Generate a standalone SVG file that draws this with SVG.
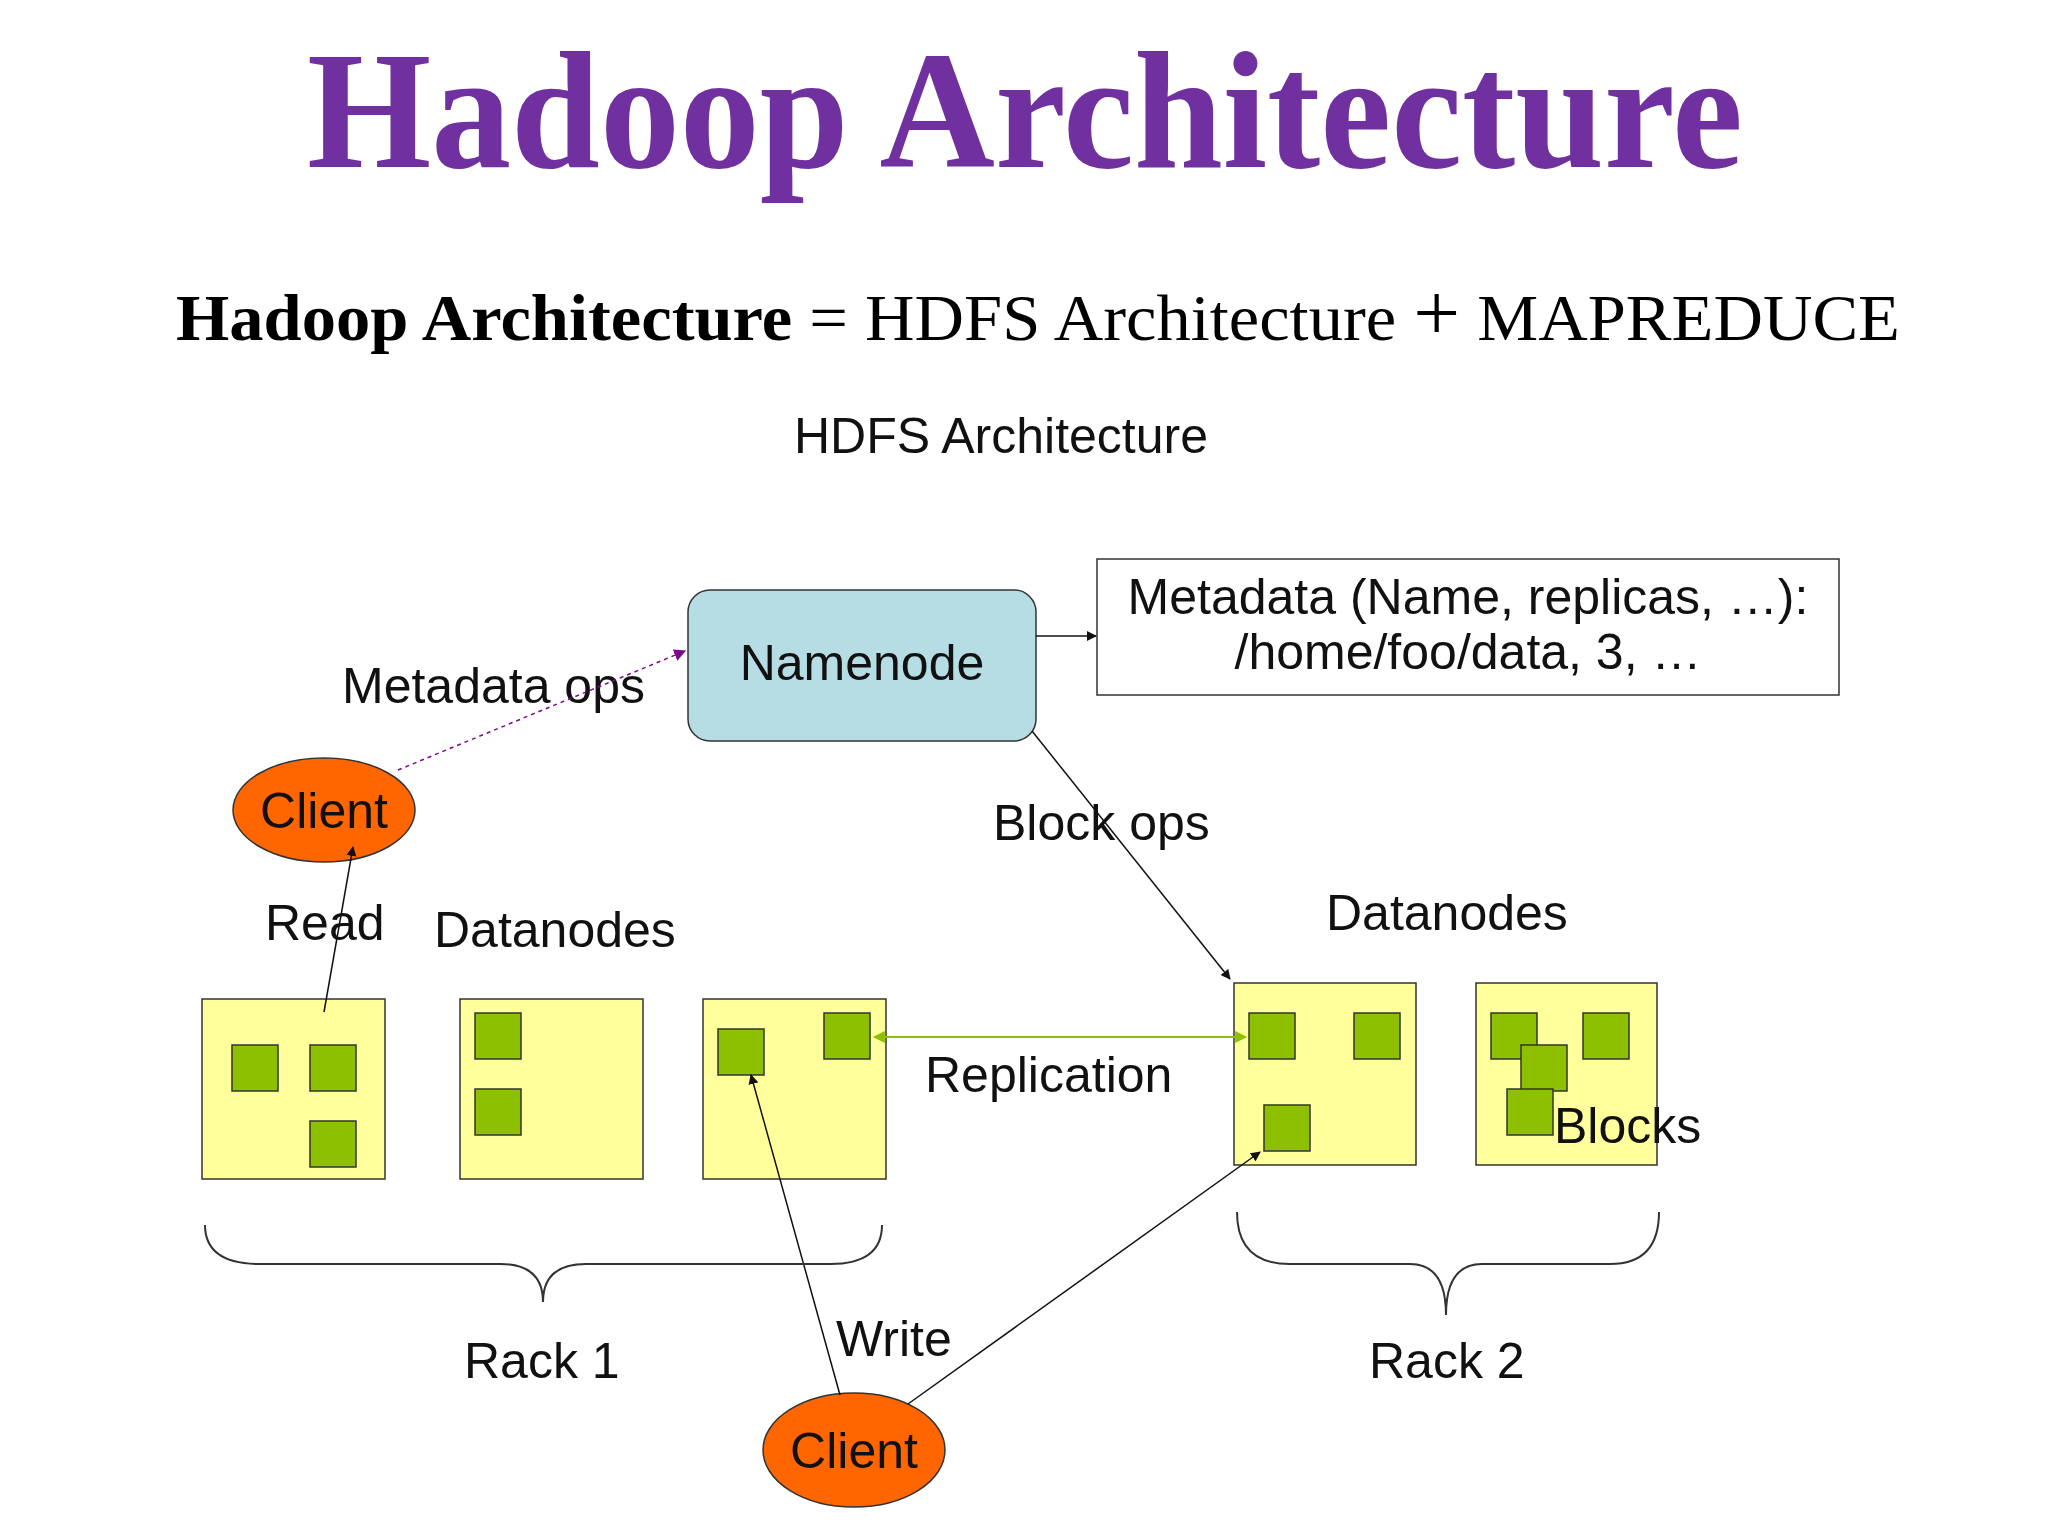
<svg xmlns="http://www.w3.org/2000/svg" width="2048" height="1536" viewBox="0 0 2048 1536">
<style>
.t{font-family:"Liberation Sans",Arial,sans-serif;font-size:50px;fill:#111}
.dn{fill:#ffff9c;stroke:#333;stroke-width:1.5}
.b{fill:#8cc000;stroke:#333;stroke-width:1.5}
.cl{fill:#ff6600;stroke:#333;stroke-width:1.5}
.ln{stroke:#111;stroke-width:1.5;fill:none}
.br{stroke:#333;stroke-width:2;fill:none}
</style>
<defs>
<marker id="ah" viewBox="0 0 10 10" refX="9" refY="5" markerWidth="10" markerHeight="10" orient="auto" markerUnits="userSpaceOnUse"><path d="M0,0L10,5L0,10z" fill="#111"/></marker>
<marker id="ap" viewBox="0 0 10 10" refX="9" refY="5" markerWidth="12" markerHeight="12" orient="auto" markerUnits="userSpaceOnUse"><path d="M0,0L10,5L0,10z" fill="#7a0a8a"/></marker>
<marker id="ag" viewBox="0 0 10 10" refX="9" refY="5" markerWidth="12" markerHeight="12" orient="auto-start-reverse" markerUnits="userSpaceOnUse"><path d="M0,0L10,5L0,10z" fill="#8cc000"/></marker>
</defs>
<rect width="2048" height="1536" fill="#fff"/>
<text x="307" y="167" font-family="'Liberation Serif','Times New Roman',serif" font-size="168" font-weight="bold" fill="#7030a0" textLength="1436" lengthAdjust="spacingAndGlyphs">Hadoop Architecture</text>
<text x="176" y="340" font-family="'Liberation Serif','Times New Roman',serif" font-size="66" fill="#000" textLength="1724" lengthAdjust="spacingAndGlyphs"><tspan font-weight="bold">Hadoop Architecture</tspan> = HDFS Architecture <tspan font-size="80">+</tspan> MAPREDUCE</text>
<text class="t" x="794" y="453">HDFS Architecture</text>

<g id="namenode"><rect x="688" y="590" width="348" height="151" rx="22" fill="#b7dde4" stroke="#333" stroke-width="1.5"/><text class="t" x="862" y="680" text-anchor="middle">Namenode</text></g>
<g id="metadata"><rect x="1097" y="559" width="742" height="136" fill="#fff" stroke="#333" stroke-width="1.5"/><text class="t" x="1468" y="614" text-anchor="middle">Metadata (Name, replicas, …):</text><text class="t" x="1468" y="669" text-anchor="middle">/home/foo/data, 3, …</text></g>
<g id="client1"><ellipse cx="324" cy="810" rx="91" ry="52" class="cl"/><text class="t" x="324" y="828" text-anchor="middle">Client</text></g>
<g id="client2"><ellipse cx="854" cy="1450" rx="91" ry="57" class="cl"/><text class="t" x="854" y="1468" text-anchor="middle">Client</text></g>

<g id="dn1"><rect class="dn" x="202" y="999" width="183" height="180"/><rect class="b" x="232" y="1045" width="46" height="46"/><rect class="b" x="310" y="1045" width="46" height="46"/><rect class="b" x="310" y="1121" width="46" height="46"/></g>
<g id="dn2"><rect class="dn" x="460" y="999" width="183" height="180"/><rect class="b" x="475" y="1013" width="46" height="46"/><rect class="b" x="475" y="1089" width="46" height="46"/></g>
<g id="dn3"><rect class="dn" x="703" y="999" width="183" height="180"/><rect class="b" x="718" y="1029" width="46" height="46"/><rect class="b" x="824" y="1013" width="46" height="46"/></g>
<g id="dn4"><rect class="dn" x="1234" y="983" width="182" height="182"/><rect class="b" x="1249" y="1013" width="46" height="46"/><rect class="b" x="1354" y="1013" width="46" height="46"/><rect class="b" x="1264" y="1105" width="46" height="46"/></g>
<g id="dn5"><rect class="dn" x="1476" y="983" width="181" height="182"/><rect class="b" x="1491" y="1013" width="46" height="46"/><rect class="b" x="1583" y="1013" width="46" height="46"/><rect class="b" x="1521" y="1045" width="46" height="46"/><rect class="b" x="1507" y="1089" width="46" height="46"/></g>

<g id="labels">
<text class="t" x="342" y="703">Metadata ops</text>
<text class="t" x="265" y="940">Read</text>
<text class="t" x="434" y="947">Datanodes</text>
<text class="t" x="1326" y="930">Datanodes</text>
<text class="t" x="993" y="840">Block ops</text>
<text class="t" x="925" y="1092">Replication</text>
<text class="t" x="1554" y="1143">Blocks</text>
<text class="t" x="464" y="1378">Rack 1</text>
<text class="t" x="1369" y="1378">Rack 2</text>
<text class="t" x="836" y="1356">Write</text>
</g>

<g id="connectors">
<line class="ln" x1="1036" y1="636" x2="1096" y2="636" marker-end="url(#ah)"/>
<line x1="398" y1="770" x2="685" y2="651" stroke="#7a0a8a" stroke-width="1.5" stroke-dasharray="4,4" marker-end="url(#ap)"/>
<line class="ln" x1="324" y1="1012" x2="353" y2="847" marker-end="url(#ah)"/>
<line class="ln" x1="1032" y1="731" x2="1230" y2="979" marker-end="url(#ah)"/>
<line x1="874" y1="1037" x2="1246" y2="1037" stroke="#8cc000" stroke-width="2" marker-start="url(#ag)" marker-end="url(#ag)"/>
<line class="ln" x1="840" y1="1395" x2="751" y2="1075" marker-end="url(#ah)"/>
<line class="ln" x1="908" y1="1404" x2="1260" y2="1152" marker-end="url(#ah)"/>
<path class="br" d="M205,1225 Q205,1264 260,1264 L500,1264 Q543,1264 543,1302 Q543,1264 586,1264 L830,1264 Q882,1264 882,1225"/>
<path class="br" d="M1237,1212 Q1237,1264 1290,1264 L1410,1264 Q1446,1264 1446,1315 Q1446,1264 1482,1264 L1610,1264 Q1659,1264 1659,1212"/>
</g>
</svg>
